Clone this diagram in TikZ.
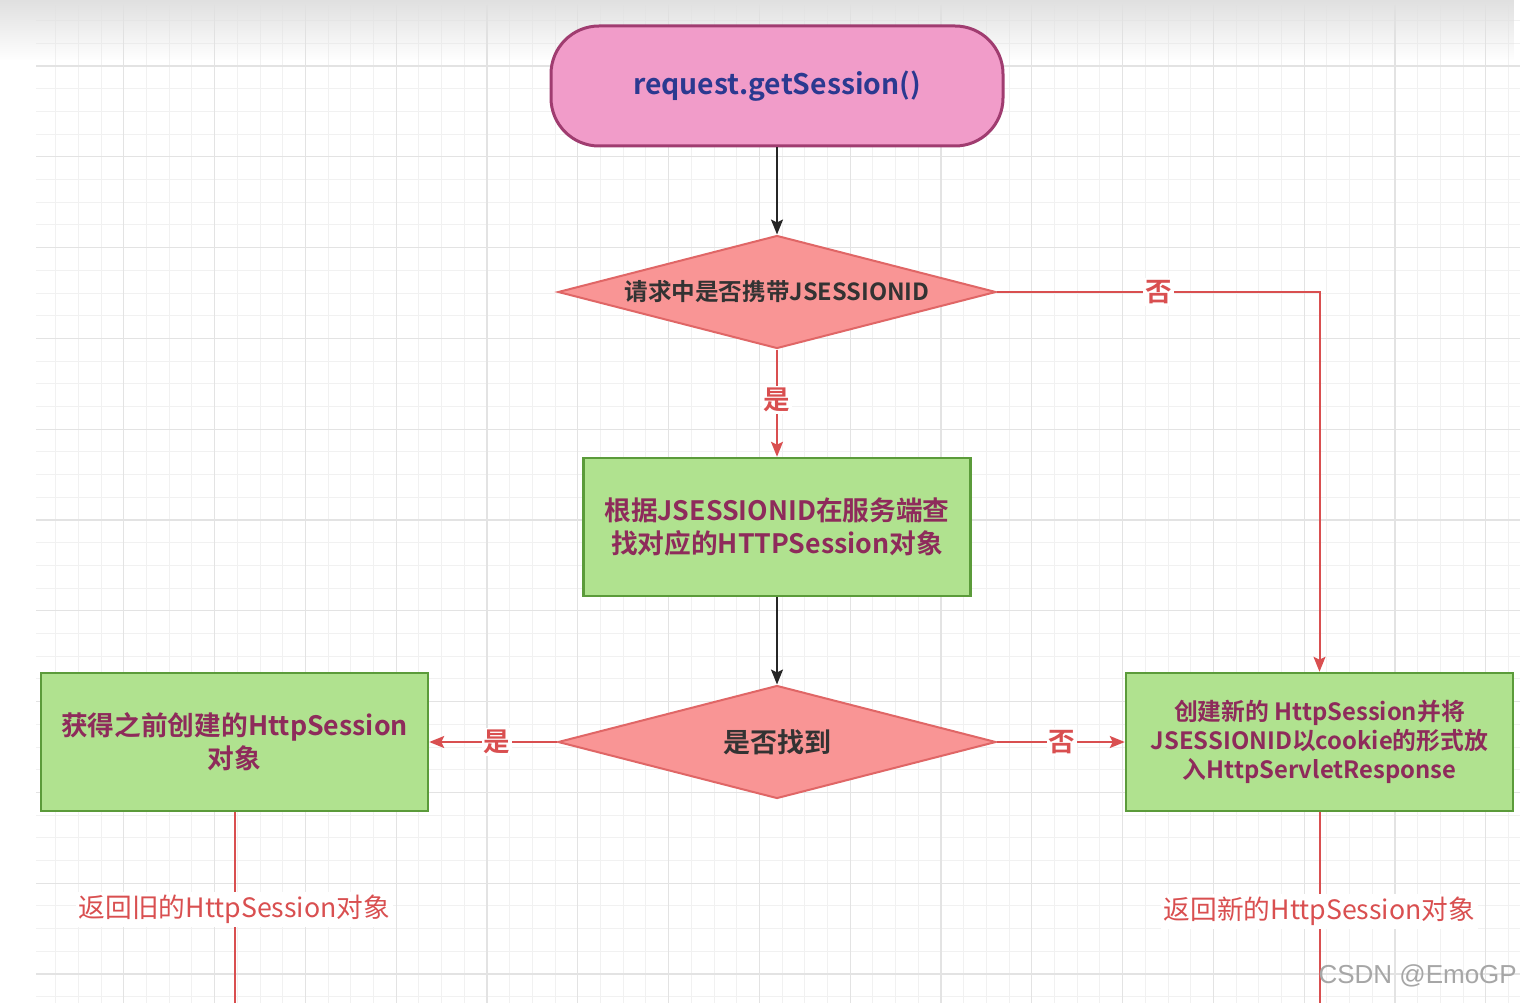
\documentclass[tikz,border=0pt]{standalone}
\usepackage{fontspec}
\setmainfont{Noto Sans CJK SC}[BoldFont={Noto Sans CJK SC Bold}]
\newfontfamily\wmfont{Liberation Sans}
\usetikzlibrary{shapes.geometric,arrows.meta,fadings}
\definecolor{pinkfill}{HTML}{F19CC9}
\definecolor{pinkline}{HTML}{A03C70}
\definecolor{navytxt}{HTML}{2B3990}
\definecolor{redfill}{HTML}{F99595}
\definecolor{redline}{HTML}{E06666}
\definecolor{greenfill}{HTML}{B0E28F}
\definecolor{greenline}{HTML}{5B9B3A}
\definecolor{maroontxt}{HTML}{8E2B5B}
\definecolor{darktxt}{HTML}{333333}
\definecolor{edgered}{HTML}{D94F50}
\definecolor{gridminor}{HTML}{F1F1F1}
\definecolor{gridmajor}{HTML}{E3E3E3}
\tikzset{
  termbox/.style={draw=pinkline, line width=3pt, fill=pinkfill, rounded corners=48pt,
    minimum width=452pt, minimum height=120pt, inner sep=0pt,
    text=navytxt, font=\bfseries\fontsize{28.3}{34}\selectfont},
  decbox/.style={diamond, draw=redline, line width=2pt, fill=redfill, aspect=3.88,
    minimum width=438pt, minimum height=113pt, inner sep=0pt,
    text=darktxt, font=\bfseries\fontsize{23.6}{28}\selectfont},
  procbox/.style={draw=greenline, line width=2.5pt, fill=greenfill,
    minimum width=387pt, minimum height=138pt, inner sep=0pt, align=center,
    text=maroontxt, font=\bfseries\fontsize{26.7}{33}\selectfont},
  blkarrow/.style={draw=black!85, line width=2pt, -{Stealth[length=15pt,width=12pt,inset=3pt]}},
  redarrow/.style={draw=edgered, line width=2pt, -{Stealth[length=15pt,width=12pt,inset=3pt]}},
  redline/.style={draw=edgered, line width=2pt},
  edgelbl/.style={fill=white, inner sep=2pt, text=edgered, font=\bfseries\fontsize{26.5}{30}\selectfont},
  retlbl/.style={fill=white, inner sep=3pt, text=edgered, font=\fontsize{26.7}{30}\selectfont},
}
\begin{document}
\begin{tikzpicture}[x=1pt,y=-1pt]
\useasboundingbox (0,0) rectangle (1520,1003);
\fill[white] (0,0) rectangle (1520,1003);
% grid
\foreach \i in {1,...,65} {\draw[gridminor, line width=1pt] ({33+22.7*\i},5) -- ({33+22.7*\i},1003);}
\foreach \j in {-2,...,41} {\draw[gridminor, line width=1pt] (36,{66+22.7*\j}) -- (1520,{66+22.7*\j});}
\foreach \i in {1,...,16} {\draw[gridmajor, line width=1.2pt] ({33+90.8*\i},5) -- ({33+90.8*\i},1003);}
\foreach \j in {0,...,10} {\draw[gridmajor, line width=1.2pt] (36,{66+90.8*\j}) -- (1520,{66+90.8*\j});}
\fill[black!12, path fading=south] (0,0) rectangle (1520,60);

% nodes
\node[termbox] (start) at (777,86) {request.getSession()};
\node[decbox] (d1) at (777,292) {请求中是否携带JSESSIONID};
\node[procbox] (look) at (777,527) {根据JSESSIONID在服务端查\\找对应的HTTPSession对象};
\node[decbox, font=\bfseries\fontsize{27}{30}\selectfont] (d2) at (777,742) {是否找到};
\node[procbox] (old) at (234.5,742) {获得之前创建的HttpSession\\对象};
\node[procbox, font=\bfseries\fontsize{23.8}{29}\selectfont] (new) at (1319.5,742) {创建新的 HttpSession并将\\JSESSIONID以cookie的形式放\\入HttpServletResponse};
\coordinate (oldend) at (234.5,1003);
\coordinate (newend) at (1319.5,1003);

% connectors
\draw[blkarrow] (start) -- (d1);
\draw[redarrow] (d1.east) -| node[edgelbl, pos=0.25] {否} (new.north);
\draw[redarrow] (d1) -- node[edgelbl, pos=0.47] {是} (look);
\draw[blkarrow] (look) -- (d2);
\draw[redarrow] (d2) -- node[edgelbl, pos=0.47] {是} (old);
\draw[redarrow] (d2) -- node[edgelbl, pos=0.51] {否} (new);
\draw[redline] (old) -- node[retlbl, pos=0.51] {返回旧的HttpSession对象} (oldend);
\draw[redline] (new) -- node[retlbl, pos=0.52] {返回新的HttpSession对象} (newend);

% watermark
\node[anchor=east, text=black!35, font=\wmfont\fontsize{26}{30}\selectfont, inner sep=0pt] (wm) at (1517,976) {CSDN @EmoGP};
\end{tikzpicture}
\end{document}
